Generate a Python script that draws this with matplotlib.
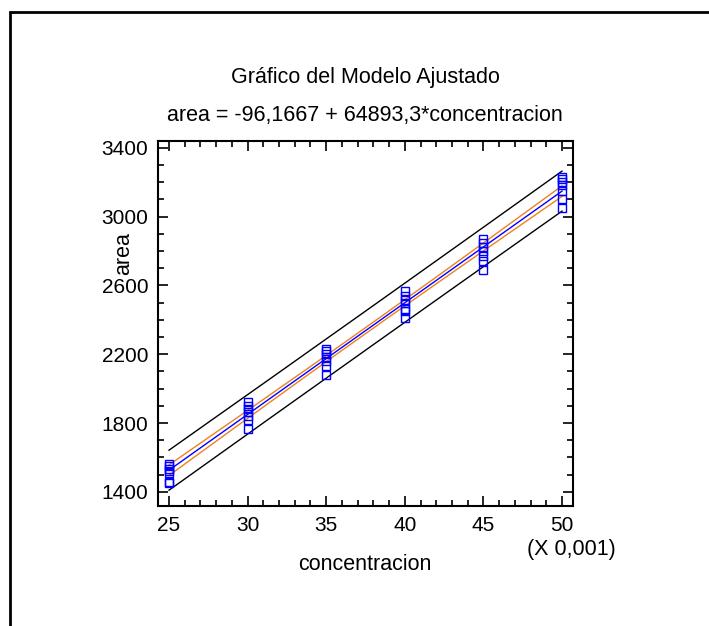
import numpy as np
import matplotlib.pyplot as plt
from matplotlib.patches import Rectangle
from matplotlib.ticker import MultipleLocator

plt.rcParams['font.family'] = ['Liberation Sans', 'DejaVu Sans']

# Data (concentracion in units of 0.001)
conc_levels = [25, 30, 35, 40, 45, 50]
area_values = [
    [1565, 1548, 1536, 1520, 1509, 1458, 1450],
    [1921, 1901, 1882, 1862, 1843, 1820, 1765],
    [2230, 2218, 2200, 2185, 2160, 2130, 2080],
    [2570, 2540, 2514, 2496, 2465, 2450, 2410],
    [2871, 2846, 2823, 2798, 2774, 2745, 2690],
    [3233, 3217, 3202, 3184, 3149, 3103, 3048],
]

# Fitted model from the title
intercept = -96.1667
slope = 64893.3
t_crit = 2.021  # t(0.975, n-2)

x = np.repeat(np.array(conc_levels, dtype=float) * 0.001, [len(v) for v in area_values])
y = np.concatenate([np.array(v, dtype=float) for v in area_values])
n = len(x)
resid = y - (intercept + slope * x)
s = np.sqrt(np.sum(resid ** 2) / (n - 2))
sxx = np.sum((x - x.mean()) ** 2)

xs = np.linspace(0.025, 0.050, 200)
fit = intercept + slope * xs
conf = t_crit * s * np.sqrt(1 / n + (xs - x.mean()) ** 2 / sxx)
pred = t_crit * s * np.sqrt(1 + 1 / n + (xs - x.mean()) ** 2 / sxx)

fig = plt.figure(figsize=(7.09, 6.26), dpi=100)
ax = fig.add_axes([158 / 709, 1 - 506 / 626, 415 / 709, 365 / 626])

xp = xs * 1000
ax.plot(xp, fit + pred, color='black', lw=1.0)
ax.plot(xp, fit - pred, color='black', lw=1.0)
ax.plot(xp, fit + conf, color='#F08020', lw=1.0)
ax.plot(xp, fit - conf, color='#F08020', lw=1.0)
ax.plot(xp, fit, color='#0000FF', lw=1.0)
ax.plot(x * 1000, y, ls='none', marker='s', ms=5.5, mfc='none', mec='#0000FF', mew=1.0)

ax.set_xlim(24.3, 50.7)
ax.set_ylim(1318, 3440)
ax.set_xticks(conc_levels)
ax.set_yticks([1400, 1800, 2200, 2600, 3000, 3400])
ax.xaxis.set_minor_locator(MultipleLocator(1))
ax.yaxis.set_minor_locator(MultipleLocator(100))
ax.tick_params(which='both', direction='in', top=True, right=True, labelsize=15, width=1.2)
ax.tick_params(which='major', length=7, pad=7)
ax.tick_params(which='minor', length=4)
for sp in ax.spines.values():
    sp.set_linewidth(1.5)

fig.text(365 / 709, 1 - 77 / 626, 'Gráfico del Modelo Ajustado', ha='center', va='center', fontsize=15.5)
fig.text(365 / 709, 1 - 116 / 626, 'area = -96,1667 + 64893,3*concentracion', ha='center', va='center', fontsize=15.5)
fig.text(124 / 709, 1 - 254 / 626, 'area', ha='center', va='center', rotation=90, fontsize=15.5)
fig.text(365 / 709, 1 - 564 / 626, 'concentracion', ha='center', va='center', fontsize=15.5)
fig.text(616 / 709, 1 - 550 / 626, '(X 0,001)', ha='right', va='center', fontsize=15.5)

# outer frame (only top and left edges visible)
fig.patches.append(Rectangle((10 / 709, -0.1), 1.2, 1 - 12 / 626 + 0.1, transform=fig.transFigure,
                             fill=False, lw=2, ec='black', clip_on=False))

fig.savefig('out.png', dpi=100)
